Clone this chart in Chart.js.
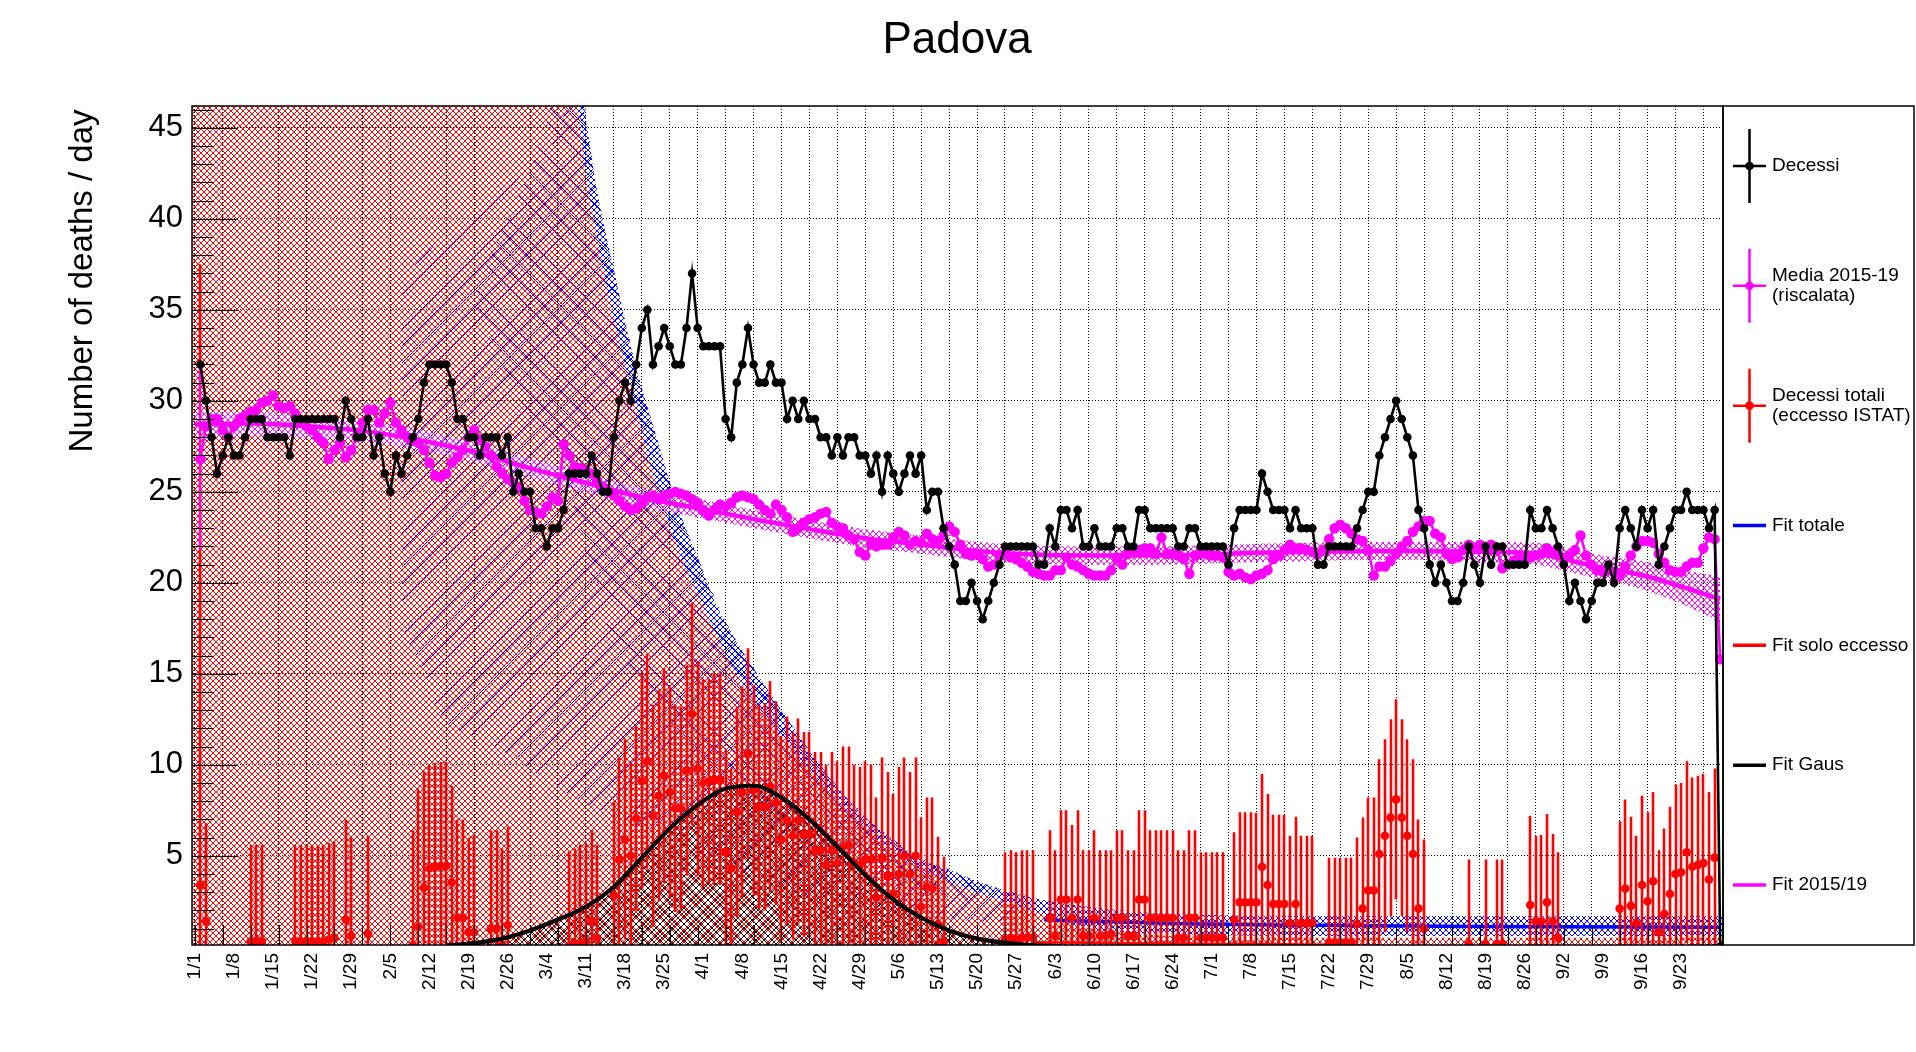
<!DOCTYPE html>
<html>
<head>
<meta charset="utf-8">
<script src="https://cdn.jsdelivr.net/npm/chart.js@4.4.1/dist/chart.umd.min.js"></script>
<style>
  html, body { margin: 0; padding: 0; background: #fff; }
  canvas { display: block; }
</style>
</head>
<body>
<canvas id="c" width="1916" height="1052"></canvas>
<script>
// ---- tick labels (one every 7 days, day 0 = 1/1) ----
const dateLabels = ['1/1','1/8','1/15','1/22','1/29','2/5','2/12','2/19','2/26','3/4','3/11','3/18','3/25',
  '4/1','4/8','4/15','4/22','4/29','5/6','5/13','5/20','5/27','6/3','6/10','6/17','6/24','7/1','7/8',
  '7/15','7/22','7/29','8/5','8/12','8/19','8/26','9/2','9/9','9/16','9/23'];
const yTicks = [5, 10, 15, 20, 25, 30, 35, 40, 45];

// ---- Decessi (black), one value per day ----
const deaths = [
  32,30,28,26,27,28,27,27,28,29, 29,29,28,28,28,28,27,29,29,29,
  29,29,29,29,29,28,30,29,28,28, 29,27,28,26,25,27,26,27,28,29,
  31,32,32,32,32,31,29,29,28,28, 27,28,28,28,27,28,25,26,25,25,
  23,23,22,23,23,24,26,26,26,26, 27,26,25,25,28,30,31,30,32,34,
  35,32,33,34,33,32,32,34,37,34, 33,33,33,33,29,28,31,32,34,32,
  31,31,32,31,31,29,30,29,30,29, 29,28,28,27,28,27,28,28,27,27,
  26,27,25,27,26,25,26,27,26,27, 24,25,25,23,22,21,19,19,20,19,
  18,19,20,21,22,22,22,22,22,22, 21,21,23,22,24,24,23,24,22,22,
  23,22,22,22,23,23,22,22,24,24, 23,23,23,23,23,22,22,23,23,22,
  22,22,22,22,21,23,24,24,24,24, 26,25,24,24,24,23,24,23,23,23,
  21,21,22,22,22,22,22,23,24,25, 25,27,28,29,30,29,28,27,24,23,
  21,20,21,20,19,19,20,22,21,20, 22,21,22,22,21,21,21,21,24,23,
  23,24,23,22,21,19,20,19,18,19, 20,20,21,20,23,24,23,22,24,23,
  24,21,22,23,24,24,25,24,24,24, 23,24,0
];

// ---- Media 2015-19 (riscalata), magenta ----
const media = [
  26.8,28.6,29.0,29.0,28.4,28.0,28.6,29.0,29.2,29.4, 29.5,29.9,30.0,30.3,29.7,29.6,29.7,29.3,28.8,28.6,
  28.4,28.0,27.7,26.8,27.3,27.7,26.9,27.3,28.0,28.8, 29.5,29.5,28.8,29.3,29.9,28.8,28.4,28.0,27.8,27.7,
  27.3,26.6,25.9,25.8,26.0,26.6,26.9,27.3,28.0,28.4, 27.9,27.5,27.0,26.4,26.0,25.7,25.5,25.2,24.5,24.0,
  23.9,23.8,24.2,24.7,24.5,27.6,27.0,26.4,26.3,26.2, 26.0,25.6,25.3,25.0,24.8,24.5,24.2,24.0,24.1,24.4,
  24.7,24.8,24.6,24.8,24.9,25.0,24.9,24.8,24.6,24.4, 24.0,23.7,24.0,24.3,24.2,24.4,24.7,24.8,24.7,24.6,
  24.3,24.0,23.8,24.3,24.0,23.6,22.8,23.0,23.3,23.5, 23.6,23.8,23.9,23.3,23.1,23.0,22.6,22.4,21.7,21.5,
  22.1,22.0,22.1,22.1,22.5,22.8,22.6,22.1,22.3,22.2, 22.7,22.4,22.3,22.6,23.1,22.8,22.1,21.6,21.5,21.6,
  21.3,20.9,21.0,21.5,21.6,21.4,21.3,21.1,20.9,20.6, 20.5,20.4,20.4,20.7,20.7,21.4,21.0,20.9,20.7,20.5,
  20.4,20.4,20.4,20.7,21.4,21.0,21.6,21.7,21.8,21.9, 21.9,21.6,22.5,21.6,21.6,21.5,21.3,20.5,21.5,21.6,
  21.6,21.5,21.5,21.4,20.6,20.4,20.5,20.3,20.2,20.4, 20.5,20.7,21.3,21.5,21.8,22.1,21.9,21.9,21.8,21.7,
  21.6,21.8,22.4,23.0,23.2,23.0,22.7,22.4,22.3,21.8, 20.4,20.9,20.9,21.2,21.6,22.0,22.3,22.8,23.1,23.4,
  23.4,22.7,22.5,21.6,21.3,21.4,21.8,22.1,21.9,22.1, 21.8,22.1,21.9,20.8,21.0,21.2,21.3,21.5,21.4,21.5,
  21.6,21.9,21.7,21.6,21.3,21.5,21.8,22.6,21.5,21.0, 20.7,20.6,20.7,20.6,20.4,20.9,21.5,22.0,22.3,22.3,
  22.2,21.6,21.1,20.7,20.6,20.6,20.9,21.1,21.1,21.9, 22.5,22.4,15.8
];
const mediaFirstErr = 5;

// ---- Decessi totali (eccesso ISTAT), red points with errors ----
const excessDay = [
  0,1,9,10,11,17,18,19,20,21,22,23,24,26,27,30,
  38,39,40,41,42,43,44,45,46,47,48,49,52,53,54,55,
  66,67,68,69,70,71,74,75,76,77,78,79,80,81,82,83,84,85,86,87,88,89,90,
  91,92,93,94,95,96,97,98,99,100, 101,102,103,104,105,106,107,108,109,110,
  111,112,113,114,115,116,117,118,119,120, 121,122,123,124,125,126,127,128,129,130, 131,132,133,
  144,145,146,147,148,149,
  152,153,154,155,156,157,158,159,160,161, 162,163,164,165,166,167,168,169,170,171,
  172,173,174,175,176,177,178,179,180,181, 182,183,
  185,186,187,188,189,190,191,192,193,194,195,196,197,198,199,
  202,203,204,205,206,207,208,209,210,211,212,213,214,215,216,217,218,219,
  227,230,232,233, 238,239,240,241,242,243,
  254,255,256,257,258,259,260,261,262,263,264,265,266,267,268,269,270,271
];
const excessVal = [
  3.4,1.4,0.3,0.3,0.3,0.3,0.3,0.3,0.3,0.3,0.3,0.4,0.5,1.5,0.6,0.7,
  0.1,1.1,3.25,4.3,4.4,4.45,4.45,3.55,1.6,1.6,0.8,0.8,1.0,1.0,0.1,1.2,
  0.05,0.2,0.2,0.3,1.4,0.5,2.8,4.8,5.9,5.0,7.05,9.1,10.2,7.2,8.3,9.4,8.5,7.6,7.6,9.7,12.8,9.8,9.0,
  9.1,9.2,9.2,5.2,4.3,7.4,8.5,10.6,8.6,7.7, 7.7,8.8,7.9,5.9,6.95,6.1,6.95,6.2,6.2,5.3,
  5.3,4.5,5.3,4.6,5.5,5.6,4.6,4.5,4.8,4.8, 2.7,4.9,3.9,2.9,4.0,5.0,4.0,5.0,2.2,3.3, 3.2,1.25,0.25,
  0.4,0.5,0.4,0.5,0.5,0.5,
  1.6,0.6,2.6,2.6,1.6,2.6,0.6,0.6,1.6,0.6, 0.6,0.7,1.6,1.6,0.6,0.6,2.6,2.6,1.6,1.6,
  1.6,1.6,1.6,0.5,0.5,1.6,1.6,0.5,0.5,0.5, 0.5,0.5,
  1.5,2.45,2.45,2.45,2.45,4.4,3.4,2.35,2.35,2.35,1.3,2.35,1.3,1.3,1.3,
  0.25,0.25,0.25,0.25,0.25,1.25,2.1,3.1,3.1,5.1,6.1,7.1,8.1,7.1,6.1,5.1,2.1,1.0,
  0.15,0.15,0.15,0.15, 2.3,1.4,1.4,2.45,1.4,0.5,
  2.1,3.2,2.25,1.3,3.4,2.5,3.6,0.8,1.8,2.9,4.0,4.1,5.2,4.4,4.5,4.6,3.7,4.9
];
const excessErr = [
  34.1,5.4,5.3,5.3,5.3,5.3,5.3,5.3,5.3,5.3,5.3,5.3,5.3,5.5,5.4,5.4,
  6.3,7.6,6.4,5.7,5.7,5.7,5.7,5.3,5.4,5.4,5.2,5.3,5.4,5.4,5.3,5.4,
  5.2,5.2,5.4,5.4,5.0,5.1,5.2,5.6,5.5,5.1,5.05,5.9,5.9,6.1,5.8,5.9,5.8,5.7,5.6,5.8,6.1,5.9,5.7,
  5.6,5.8,5.8,5.6,5.5,5.8,5.8,5.8,5.8,5.6, 5.7,5.8,5.6,5.7,5.7,5.7,5.6,5.6,5.6,5.4,
  5.4,5.5,5.4,5.6,5.5,5.4,5.4,5.4,5.4,5.2, 5.5,5.5,5.7,5.5,5.9,5.4,5.6,5.4,4.9,4.9, 5.0,4.8,4.7,
  4.8,4.8,4.8,4.8,4.8,4.8,
  4.8,4.7,4.9,4.9,5.1,4.9,4.7,4.7,4.8,4.7, 4.7,4.6,4.8,4.8,4.7,4.7,4.9,4.9,4.8,4.8,
  4.8,4.8,4.8,4.8,4.8,4.8,4.8,4.7,4.7,4.7, 4.7,4.7,
  4.8,4.95,4.95,4.95,4.9,5.1,5.0,4.9,4.9,4.9,4.8,4.8,4.8,4.8,4.8,
  4.65,4.65,4.65,4.65,4.65,4.75,5.0,5.1,5.1,5.2,5.3,5.4,5.5,5.4,5.3,5.2,4.9,4.9,
  4.65,4.65,4.65,4.65, 4.9,4.7,4.75,4.85,4.8,4.7,
  4.8,4.9,4.9,4.8,4.9,4.9,4.9,4.5,4.7,4.8,4.9,4.9,5.0,4.9,4.9,4.9,4.8,4.9
];

// ---- fitted curves, read at knots ----
const gausDay = [45,50,55,60,65,70,75,80,85,90,95,100,105,110,115,120,125,130,135,140,145,150,155];
const gausVal = [0.08,0.2,0.45,0.9,1.5,2.2,3.3,4.9,6.5,7.8,8.7,8.85,8.2,7.0,5.5,3.95,2.6,1.6,0.9,0.45,0.22,0.1,0.04];

const fit1519Day = [0,10,20,30,40,50,60,70,80,90,100,110,120,130,140,150,160,170,180,190,200,210,220,230,240,250,260,270,273];
const fit1519Val = [28.7,28.75,28.6,28.35,27.85,27.2,26.3,25.5,24.7,24.1,23.5,22.95,22.45,22.1,21.75,21.55,21.5,21.5,21.55,21.65,21.7,21.75,21.75,21.7,21.6,20.95,20.35,19.4,19.1];
const fit1519Up = [29.4,29.4,29.2,28.9,28.4,27.7,26.8,26.0,25.2,24.6,24.0,23.45,22.95,22.6,22.25,22.05,22.0,22.0,22.05,22.15,22.2,22.25,22.25,22.25,22.2,21.6,21.15,20.5,20.4];
const fit1519Lo = [28.0,28.1,28.0,27.8,27.3,26.7,25.8,25.0,24.2,23.6,23.0,22.45,21.95,21.6,21.25,21.05,21.0,21.0,21.05,21.15,21.2,21.25,21.25,21.15,21.0,20.3,19.55,18.3,17.8];

const fitTotDay = [152,160,180,200,230,273];
const fitTotVal = [1.5,1.4,1.25,1.18,1.12,1.07];

const fitExcDay = [150,175,203];
const fitExcVal = [0.25,0.18,0.12];

// ---- confidence bands (upper / lower edges) ----
const redBandDay = [-0.5,40,60,64,66,68,70,72,74,76,78,80,82,84,86,88,90,93,96,100,105,110,115,120,125,130,135,140,150,160,175,200,240,273.5];
const redBandVal = [80,80,80,62,52,47.5,42.5,39,35.8,33.2,30.8,28.3,26.0,24.0,22.3,20.7,19.4,17.4,15.5,13.6,11.6,9.7,8.0,6.5,5.3,4.3,3.6,3.0,2.0,1.0,0.6,0.5,0.5,0.5];

const stripDay = [66,68,70,72,74,76,78,80,82,84,86,88,90,93,96,100,105,110,115,120,125,130,135,140,150,160,175,200,240,273.5];
const stripUp  = [54,49.5,45.5,41.5,38.6,35.8,33.0,30.7,28.7,26.6,24.6,22.9,21.4,19.0,17.3,15.3,13.0,10.8,8.8,7.1,5.9,4.8,4.25,3.6,2.7,2.2,1.8,1.7,1.7,1.7];
const stripLo  = [52,47.5,42.5,39,35.8,33.2,30.8,28.3,26.0,24.0,22.3,20.7,19.4,17.4,15.5,13.6,11.6,9.7,8.0,6.5,5.3,4.3,3.6,3.0,2.0,1.0,0.7,0.6,0.6,0.6];

// "///" hatched band
const slashDay = [37,39,41,44,50,56,63,68,70,72,76,80,85,90,96,105,114,125,140,150];
const slashUp  = [36.5,37.3,38,38.8,40.2,41.8,43.5,46.5,45.5,41.5,35.8,30.7,25.5,21.4,17.3,13.0,9.2,5.9,3.6,2.7];
const slashLo  = [17.5,16.3,15.1,12.7,11.6,10.6,9.2,8.2,7.9,7.6,7.1,6.6,6.0,5.4,4.6,3.2,2.3,1.8,1.4,1.3];

// "\\\" hatched band
const bslashDay = [50,55,61,64,66,68,70,72,76,80,85,90,96,100,105,110,115,120,130,140];
const bslashUp  = [35.5,39.5,43.5,47,54,49.5,45.5,41.5,35.8,30.7,25.5,21.4,17.3,15.3,13.0,10.8,8.8,7.1,4.8,3.6];
const bslashLo  = [35.5,32,28.5,27.2,26.2,24,21.5,19,16.5,14.5,12.4,10.6,8.6,7.5,6.4,5.5,4.7,4.0,3.0,2.5];

// ---- chart ----
const canvas = document.getElementById('c');
const ctx = canvas.getContext('2d');
Chart.defaults.font.family = '"Liberation Sans", Arial, Helvetica, sans-serif';
Chart.defaults.color = '#000';

// dir: 'x' = cross, '/' or '\\' = single diagonal
function hatch(color, size, width, dir) {
  const t = document.createElement('canvas');
  t.width = t.height = size;
  const g = t.getContext('2d');
  g.strokeStyle = color;
  g.lineWidth = width;
  g.beginPath();
  for (const dx of [-size, 0, size]) {
    if (dir === 'x' || dir === '\\') { g.moveTo(dx, 0); g.lineTo(dx + size, size); }
    if (dir === 'x' || dir === '/') { g.moveTo(dx + size, 0); g.lineTo(dx, size); }
  }
  g.stroke();
  return ctx.createPattern(t, 'repeat');
}

const redHatch = hatch('#ff0000', 6, 1, 'x');
const blueHatch = hatch('#0000ff', 6, 1, 'x');
const blueSlash = hatch('#0000ff', 17, 1, '/');
const blueBack = hatch('#0000ff', 17, 1, '\\');
const blackHatch = hatch('#000000', 8, 1, 'x');
const magHatch = hatch('#ff00ff', 6, 1, 'x');

const pts = (xs, ys) => xs.map((x, k) => ({ x: x, y: ys[k] }));
const NONE = 'rgba(0,0,0,0)';

function band(xs, ys, fill, bg, order) {
  return {
    data: pts(xs, ys), fill: fill, backgroundColor: bg, borderColor: NONE, borderWidth: 1,
    pointRadius: 0, pointHitRadius: 0, cubicInterpolationMode: 'monotone', order: order
  };
}

const datasets = [
  { // 0 Decessi
    data: deaths.map((v, i) => ({ x: i + 1, y: v })),
    borderColor: '#000', backgroundColor: '#000', borderWidth: 2.6,
    pointRadius: 4.3, pointBorderWidth: 0, pointBackgroundColor: '#000', order: 1
  },
  { // 1 Media 2015-19
    data: media.map((v, i) => ({ x: i + 1, y: v })),
    errors: media.map((v, i) => (i === 0 ? mediaFirstErr : 0)), errorColor: '#ff00ff', errorWidth: 2,
    borderColor: '#ff00ff', backgroundColor: '#ff00ff', borderWidth: 2.6,
    pointRadius: 5.2, pointBorderWidth: 0, pointBackgroundColor: '#ff00ff', order: 2
  },
  { // 2 Fit Gaus
    data: pts(gausDay, gausVal), borderColor: '#000', borderWidth: 4.2, pointRadius: 0,
    cubicInterpolationMode: 'monotone', fill: false, order: 3
  },
  { // 3 Decessi totali (eccesso ISTAT)
    data: excessDay.map((d, k) => ({ x: d + 1, y: excessVal[k] })),
    errors: excessErr, errorColor: '#ff0000', errorWidth: 2.6,
    showLine: false, pointRadius: 4.3, pointBorderWidth: 0,
    pointBackgroundColor: '#ff0000', borderColor: '#ff0000', order: 4
  },
  { // 4 Fit 2015/19
    data: pts(fit1519Day, fit1519Val), borderColor: '#ff00ff', borderWidth: 4.5, pointRadius: 0,
    cubicInterpolationMode: 'monotone', fill: false, order: 5
  },
  { // 5 Fit totale
    data: pts(fitTotDay, fitTotVal), borderColor: '#0000ff', borderWidth: 3.5, pointRadius: 0,
    cubicInterpolationMode: 'monotone', fill: false, order: 6
  },
  { // 6 Fit solo eccesso
    data: pts(fitExcDay, fitExcVal), borderColor: '#ff0000', borderWidth: 2.5, pointRadius: 0,
    fill: false, order: 7
  },
  band(gausDay, gausVal, 'start', blackHatch, 9),          // 7
  band(fit1519Day, fit1519Up, '+1', magHatch, 10),          // 8
  band(fit1519Day, fit1519Lo, false, NONE, 11),             // 9
  band(stripDay, stripUp, '+1', blueHatch, 12),             // 10
  band(stripDay, stripLo, false, NONE, 13),                 // 11
  band(redBandDay, redBandVal, 'start', redHatch, 14),      // 12
  band(slashDay, slashUp, '+1', blueSlash, 15),             // 13
  band(slashDay, slashLo, false, NONE, 16),                 // 14
  band(bslashDay, bslashUp, '+1', blueBack, 17),            // 15
  band(bslashDay, bslashLo, false, NONE, 18)                // 16
];

const xTickValues = [];
for (let d = 0; d <= 273; d++) if (d % 5 === 0 || d % 7 === 0) xTickValues.push(d);

const errorBars = {
  id: 'errorBars',
  afterDatasetDraw(chart, args) {
    const ds = chart.data.datasets[args.index];
    if (!ds.errors) return;
    const a = chart.chartArea, x = chart.scales.x, y = chart.scales.y, c = chart.ctx;
    c.save();
    c.beginPath(); c.rect(a.left, a.top, a.right - a.left, a.bottom - a.top); c.clip();
    c.strokeStyle = ds.errorColor; c.lineWidth = ds.errorWidth;
    c.beginPath();
    ds.data.forEach((p, k) => {
      const e = ds.errors[k];
      if (!e) return;
      const px = Math.round(x.getPixelForValue(p.x));
      c.moveTo(px, y.getPixelForValue(p.y - e));
      c.lineTo(px, y.getPixelForValue(p.y + e));
    });
    c.stroke();
    c.restore();
  }
};

const legendItems = [
  { lines: ['Decessi'], color: '#000000', marker: true },
  { lines: ['Media 2015-19', '(riscalata)'], color: '#ff00ff', marker: true },
  { lines: ['Decessi totali', '(eccesso ISTAT)'], color: '#ff0000', marker: true },
  { lines: ['Fit totale'], color: '#0000ff', marker: false },
  { lines: ['Fit solo eccesso'], color: '#ff0000', marker: false },
  { lines: ['Fit Gaus'], color: '#000000', marker: false },
  { lines: ['Fit 2015/19'], color: '#ff00ff', marker: false }
];

const rootDecor = {
  id: 'rootDecor',
  afterDraw(chart) {
    const c = chart.ctx, a = chart.chartArea, x = chart.scales.x, y = chart.scales.y;
    const font = '"Liberation Sans", Arial, sans-serif';
    c.save();
    // inner tick marks
    c.strokeStyle = '#000'; c.lineWidth = 1;
    c.beginPath();
    for (let v = 1; v <= 46; v++) {
      const py = Math.round(y.getPixelForValue(v)) + 0.5;
      c.moveTo(a.left, py); c.lineTo(a.left + (v % 5 === 0 ? 46 : 22), py);
    }
    for (let d = 0; d <= 273; d += 5) {
      const px = Math.round(x.getPixelForValue(d)) + 0.5;
      c.moveTo(px, a.bottom); c.lineTo(px, a.bottom - 20);
    }
    c.stroke();
    // frame
    c.lineWidth = 1.5;
    c.strokeRect(a.left, a.top, a.right - a.left, a.bottom - a.top);
    // title
    c.fillStyle = '#000';
    c.textAlign = 'center'; c.textBaseline = 'alphabetic';
    c.font = '44px ' + font;
    c.fillText('Padova', 957, 53);
    // y title
    c.save();
    c.translate(83, 281); c.rotate(-Math.PI / 2);
    c.font = '33px ' + font; c.textBaseline = 'middle';
    c.fillText('Number of deaths / day', 0, 0);
    c.restore();
    // legend box
    const bx = a.right, by = a.top, bw = 1914 - a.right, bh = a.bottom - a.top;
    c.lineWidth = 1.5;
    c.strokeRect(bx, by, bw, bh);
    const rowH = bh / legendItems.length;
    c.font = '19px ' + font; c.textAlign = 'left'; c.textBaseline = 'middle';
    legendItems.forEach((it, k) => {
      const yc = by + rowH * (k + 0.5);
      c.strokeStyle = it.color; c.fillStyle = it.color;
      c.lineWidth = it.marker ? 2.5 : 3.5;
      c.beginPath();
      c.moveTo(1733, yc); c.lineTo(1766, yc);
      if (it.marker) { c.moveTo(1749.5, yc - 37); c.lineTo(1749.5, yc + 37); }
      c.stroke();
      if (it.marker) { c.beginPath(); c.arc(1749.5, yc, 4.3, 0, 2 * Math.PI); c.fill(); }
      c.fillStyle = '#000';
      const n = it.lines.length;
      it.lines.forEach((t, j) => c.fillText(t, 1772, yc + (j - (n - 1) / 2) * 19.5));
    });
    c.restore();
  }
};

new Chart(ctx, {
  type: 'line',
  data: { datasets: datasets },
  options: {
    responsive: false,
    animation: false,
    devicePixelRatio: 1,
    layout: { padding: { left: 0, right: 193, top: 106, bottom: 0 } },
    plugins: { legend: { display: false }, tooltip: { enabled: false }, title: { display: false } },
    scales: {
      x: {
        type: 'linear', min: -0.5, max: 273.5,
        afterBuildTicks: s => { s.ticks = xTickValues.map(v => ({ value: v })); },
        afterFit: s => { s.height = 107; },
        grid: {
          color: c => (c.tick && c.tick.value % 5 === 0) ? '#000' : NONE,
          lineWidth: 1, drawTicks: false
        },
        border: { display: false, dash: [1, 2] },
        ticks: {
          autoSkip: false, maxRotation: 90, minRotation: 90, padding: 8, color: '#000',
          font: { size: 19 },
          callback: v => (v % 7 === 0 ? dateLabels[v / 7] : '')
        }
      },
      y: {
        type: 'linear', min: 0.1, max: 46.2,
        afterBuildTicks: s => { s.ticks = yTicks.map(v => ({ value: v })); },
        afterFit: s => { s.width = 192; },
        grid: { color: '#000', lineWidth: 1, drawTicks: false },
        border: { display: false, dash: [1, 2] },
        ticks: { padding: 9, color: '#000', font: { size: 31 } }
      }
    }
  },
  plugins: [errorBars, rootDecor]
});
</script>
</body>
</html>
